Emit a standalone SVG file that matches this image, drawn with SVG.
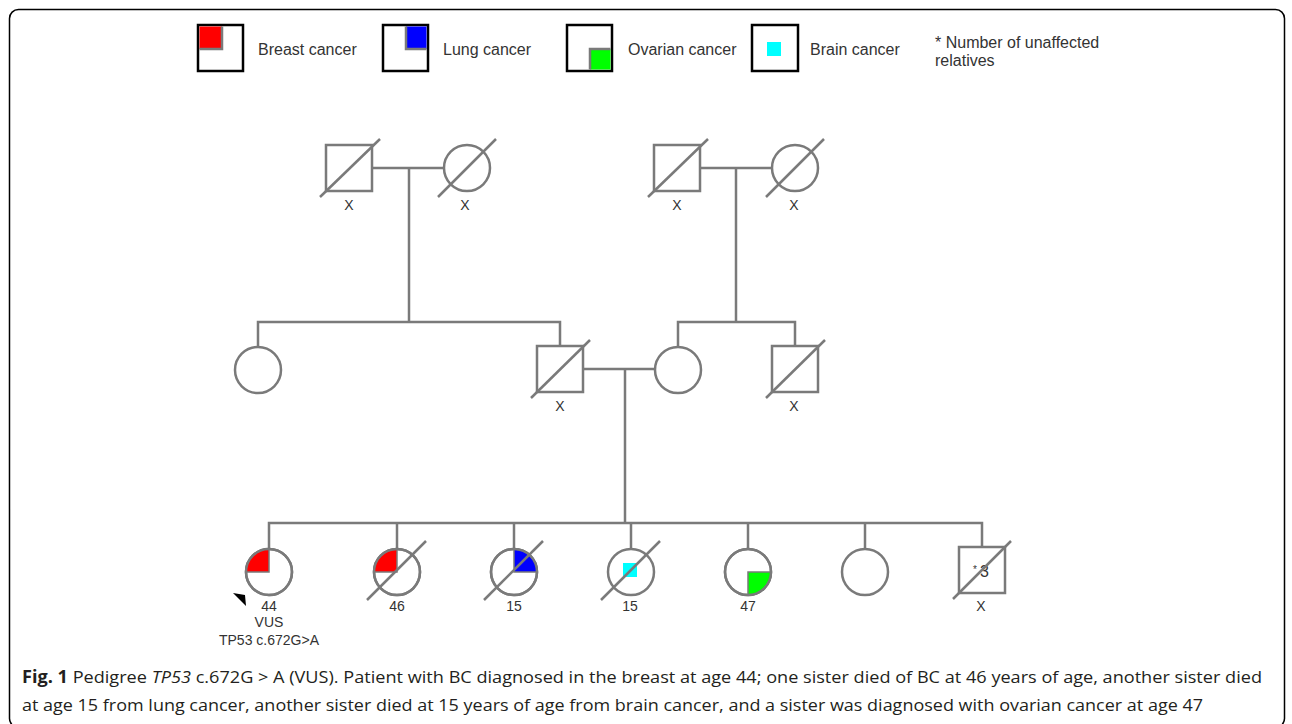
<svg xmlns="http://www.w3.org/2000/svg" width="1292" height="724" viewBox="0 0 1292 724">
<style>
.ln{stroke:#7a7a7a;stroke-width:2.5;fill:none}
.sh{stroke:#7a7a7a;stroke-width:2.5;fill:#fff}
.lg{stroke:#000;stroke-width:2.5;fill:#fff}
.pie{stroke:#7a7a7a;stroke-width:1.5}
.t{font-family:"Liberation Sans",Arial,sans-serif;font-size:14px;fill:#333;text-anchor:middle}
.lt{font-family:"Liberation Sans",Arial,sans-serif;font-size:16px;fill:#333}
.cap{font-family:"Liberation Sans Narrow","Open Sans","Liberation Sans",sans-serif;font-size:17px;fill:#231f20}
</style>
<rect x="0" y="0" width="1292" height="724" fill="#fff"/>
<rect x="9.5" y="9.5" width="1275" height="718" rx="9" fill="none" stroke="#000" stroke-width="1.5"/>

<g id="legend">
  <g id="legend-breast">
    <rect class="lg" x="198" y="25" width="45" height="46"/>
    <rect x="199.5" y="26.5" width="22.5" height="22.5" fill="#ff0000"/>
    <polyline class="ln" stroke-width="2" points="222,26.5 222,49 199.5,49"/>
    <text class="lt" x="258" y="55">Breast cancer</text>
  </g>
  <g id="legend-lung">
    <rect class="lg" x="383" y="25" width="45" height="46"/>
    <rect x="406" y="26.5" width="20.5" height="22.5" fill="#0000ff"/>
    <polyline class="ln" stroke-width="2" points="406,26.5 406,49 426.5,49"/>
    <text class="lt" x="443" y="55">Lung cancer</text>
  </g>
  <g id="legend-ovarian">
    <rect class="lg" x="567" y="25" width="45" height="46"/>
    <rect x="590" y="49" width="20.5" height="20.5" fill="#00ff00"/>
    <polyline class="ln" stroke-width="2" points="590,69.5 590,49 610.5,49"/>
    <text class="lt" x="628" y="55">Ovarian cancer</text>
  </g>
  <g id="legend-brain">
    <rect class="lg" x="752" y="25" width="46" height="46"/>
    <rect x="767" y="42" width="14" height="14" fill="#00ffff"/>
    <text class="lt" x="810" y="55">Brain cancer</text>
  </g>
  <g id="legend-note">
    <text class="lt" x="935" y="48">* Number of unaffected</text>
    <text class="lt" x="935" y="66">relatives</text>
  </g>
</g>

<g id="connectors">
  <line class="ln" x1="372" y1="168" x2="444" y2="168"/>
  <line class="ln" x1="409" y1="168" x2="409" y2="322"/>
  <line class="ln" x1="700" y1="168" x2="772" y2="168"/>
  <line class="ln" x1="736" y1="168" x2="736" y2="322"/>
  <polyline class="ln" points="258,347 258,322 560,322 560,346"/>
  <polyline class="ln" points="678,347 678,322 795,322 795,346"/>
  <line class="ln" x1="583" y1="369" x2="655" y2="369"/>
  <line class="ln" x1="625" y1="369" x2="625" y2="523"/>
  <polyline class="ln" points="269,549 269,523 982,523 982,547"/>
  <line class="ln" x1="397" y1="523" x2="397" y2="549"/>
  <line class="ln" x1="514" y1="523" x2="514" y2="549"/>
  <line class="ln" x1="631" y1="523" x2="631" y2="549"/>
  <line class="ln" x1="748" y1="523" x2="748" y2="549"/>
  <line class="ln" x1="865" y1="523" x2="865" y2="549"/>
</g>

<g id="gen1-pgf">
  <rect class="sh" x="326" y="145" width="46" height="46"/>
  <line class="ln" x1="320" y1="197" x2="380" y2="139"/>
  <text class="t" x="349" y="210">X</text>
</g>
<g id="gen1-pgm">
  <circle class="sh" cx="467" cy="168" r="23"/>
  <line class="ln" x1="438" y1="197" x2="496" y2="139"/>
  <text class="t" x="465" y="210">X</text>
</g>
<g id="gen1-mgf">
  <rect class="sh" x="654" y="145" width="46" height="46"/>
  <line class="ln" x1="648" y1="197" x2="708" y2="139"/>
  <text class="t" x="677" y="210">X</text>
</g>
<g id="gen1-mgm">
  <circle class="sh" cx="795" cy="168" r="23"/>
  <line class="ln" x1="766" y1="197" x2="824" y2="139"/>
  <text class="t" x="794" y="210">X</text>
</g>

<g id="gen2-aunt">
  <circle class="sh" cx="258" cy="370" r="23"/>
</g>
<g id="gen2-father">
  <rect class="sh" x="537" y="346" width="46" height="46"/>
  <line class="ln" x1="531" y1="398" x2="590" y2="340"/>
  <text class="t" x="560" y="411">X</text>
</g>
<g id="gen2-mother">
  <circle class="sh" cx="678" cy="370" r="23"/>
</g>
<g id="gen2-uncle">
  <rect class="sh" x="772" y="346" width="46" height="46"/>
  <line class="ln" x1="766" y1="398" x2="825" y2="340"/>
  <text class="t" x="794" y="411">X</text>
</g>

<g id="gen3-proband">
  <circle class="sh" cx="269" cy="572" r="23"/>
  <path class="pie" d="M269,572 L246,572 A23,23 0 0 1 269,549 Z" fill="#ff0000"/>
  <circle class="ln" cx="269" cy="572" r="23"/>
  <polygon points="233,593 245,595 246,606" fill="#000"/>
  <text class="t" x="269" y="611">44</text>
  <text class="t" x="269" y="627">VUS</text>
  <text class="t" x="269" y="645">TP53 c.672G&gt;A</text>
</g>
<g id="gen3-sister46">
  <circle class="sh" cx="397" cy="572" r="23"/>
  <path class="pie" d="M397,572 L374,572 A23,23 0 0 1 397,549 Z" fill="#ff0000"/>
  <circle class="ln" cx="397" cy="572" r="23"/>
  <line class="ln" x1="367" y1="600" x2="426" y2="541"/>
  <text class="t" x="397" y="611">46</text>
</g>
<g id="gen3-sister15lung">
  <circle class="sh" cx="514" cy="572" r="23"/>
  <path class="pie" d="M514,572 L514,549 A23,23 0 0 1 537,572 Z" fill="#0000ff"/>
  <circle class="ln" cx="514" cy="572" r="23"/>
  <line class="ln" x1="484" y1="600" x2="543" y2="541"/>
  <text class="t" x="514" y="611">15</text>
</g>
<g id="gen3-sister15brain">
  <circle class="sh" cx="631" cy="572" r="23"/>
  <rect x="623" y="563" width="14" height="14" fill="#00ffff"/>
  <line class="ln" x1="601" y1="600" x2="660" y2="541"/>
  <text class="t" x="630" y="611">15</text>
</g>
<g id="gen3-sister47">
  <circle class="sh" cx="748" cy="572" r="23"/>
  <path class="pie" d="M748,572 L771,572 A23,23 0 0 1 748,595 Z" fill="#00ff00"/>
  <circle class="ln" cx="748" cy="572" r="23"/>
  <text class="t" x="748" y="611">47</text>
</g>
<g id="gen3-sister">
  <circle class="sh" cx="865" cy="572" r="23"/>
</g>
<g id="gen3-brothers">
  <rect class="sh" x="959" y="547" width="46" height="46"/>
  <text class="t" x="981" y="577"><tspan font-size="10" dy="-4">*</tspan><tspan font-size="16" dy="4" dx="3">3</tspan></text>
  <line class="ln" x1="953" y1="599" x2="1011" y2="541"/>
  <text class="t" x="981" y="611">X</text>
</g>

<g id="caption">
  <text class="cap" x="22" y="683" textLength="1240" lengthAdjust="spacingAndGlyphs"><tspan font-weight="bold">Fig. 1</tspan> Pedigree <tspan font-style="italic">TP53</tspan> c.672G &gt; A (VUS). Patient with BC diagnosed in the breast at age 44; one sister died of BC at 46 years of age, another sister died</text>
  <text class="cap" x="22" y="711" textLength="1181" lengthAdjust="spacingAndGlyphs">at age 15 from lung cancer, another sister died at 15 years of age from brain cancer, and a sister was diagnosed with ovarian cancer at age 47</text>
</g>
</svg>
